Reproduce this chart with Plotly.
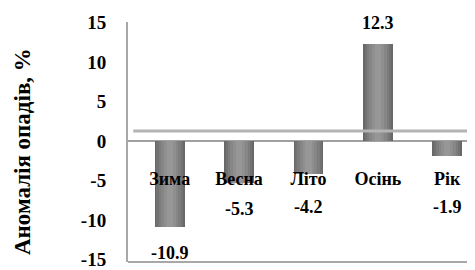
import plotly.graph_objects as go

categories = ["Зима", "Весна", "Літо", "Осінь", "Рік"]
values = [-10.9, -5.3, -4.2, 12.3, -1.9]
value_labels = ["-10.9", "-5.3", "-4.2", "12.3", "-1.9"]
y_ticks = [15, 10, 5, 0, -5, -10, -15]
y_title = "Аномалія опадів, %"

FONT = "Liberation Serif"
OFF = 8  # default page body margin
W, H = 475 - OFF, 270 - OFF
ML, MR, MT, MB = 128 - OFF, 0, 22 - OFF, 5
YR = [-15.3, 15.05]
ppu = (H - MT - MB) / (YR[1] - YR[0])
zero_px = MT + YR[1] * ppu + OFF  # in screen pixels

fig = go.Figure()
# cylinder-like shading with overlaid bars
shades = [(0.43, "#686868"), (0.38, "#727272"), (0.32, "#7c7c7c"), (0.25, "#868686"),
          (0.17, "#8f8f8f"), (0.09, "#979797")]
for w, c in shades:
    fig.add_trace(go.Bar(x=categories, y=values, width=w, marker=dict(color=c, line=dict(width=0)),
                         hoverinfo="skip", showlegend=False))

lab_font = dict(family=FONT, size=18, color="black", weight="bold")
annotations = []
for cat, v, t in zip(categories, values, value_labels):
    if v < 0:
        ylab = min(v - 26 / ppu, -(209 - zero_px) / ppu)
        annotations.append(dict(x=cat, y=ylab, xref="x", yref="y", text=t, showarrow=False,
                                yanchor="middle", font=lab_font))
    else:
        annotations.append(dict(x=cat, y=v, xref="x", yref="y", text=t, showarrow=False,
                                yanchor="middle", yshift=21, font=lab_font))

annotations.append(dict(x=0, y=0.5, xref="paper", yref="paper", xshift=-106, yshift=-10, text=y_title,
                        textangle=-90, showarrow=False, xanchor="center", yanchor="middle",
                        font=dict(family=FONT, size=23, color="black", weight="bold")))

shapes = [
    # floor back edge (3D look)
    dict(type="line", xref="paper", yref="y", x0=0.015, x1=1, y0=10, y1=10, ysizemode="pixel",
         yanchor=0, line=dict(color="#b4b4b4", width=3)),
    # bottom border
    dict(type="line", xref="paper", yref="paper", x0=0, x1=1, y0=0, y1=0,
         line=dict(color="#a8a8a8", width=2)),
]

fig.update_layout(
    width=W, height=H, margin=dict(l=ML, r=MR, t=MT, b=MB),
    paper_bgcolor="white", plot_bgcolor="white",
    barmode="overlay", bargap=0,
    annotations=annotations, shapes=shapes,
    xaxis=dict(range=[-0.6, 4.4], anchor="free", position=0.4, showline=False,
               showgrid=False, zeroline=False, ticks="",
               tickfont=dict(family=FONT, size=18, color="black", weight="bold")),
    yaxis=dict(range=YR, tickvals=y_ticks, ticktext=[str(v) for v in y_ticks],
               showgrid=False, zeroline=True, zerolinecolor="#a0a0a0", zerolinewidth=2,
               showline=True, linecolor="#a8a8a8", linewidth=2, ticks="", ticklabelstandoff=16,
               ticklabeloverflow="allow",
               tickfont=dict(family=FONT, size=19, color="black", weight="bold")),
)

fig.write_html("out.html")
